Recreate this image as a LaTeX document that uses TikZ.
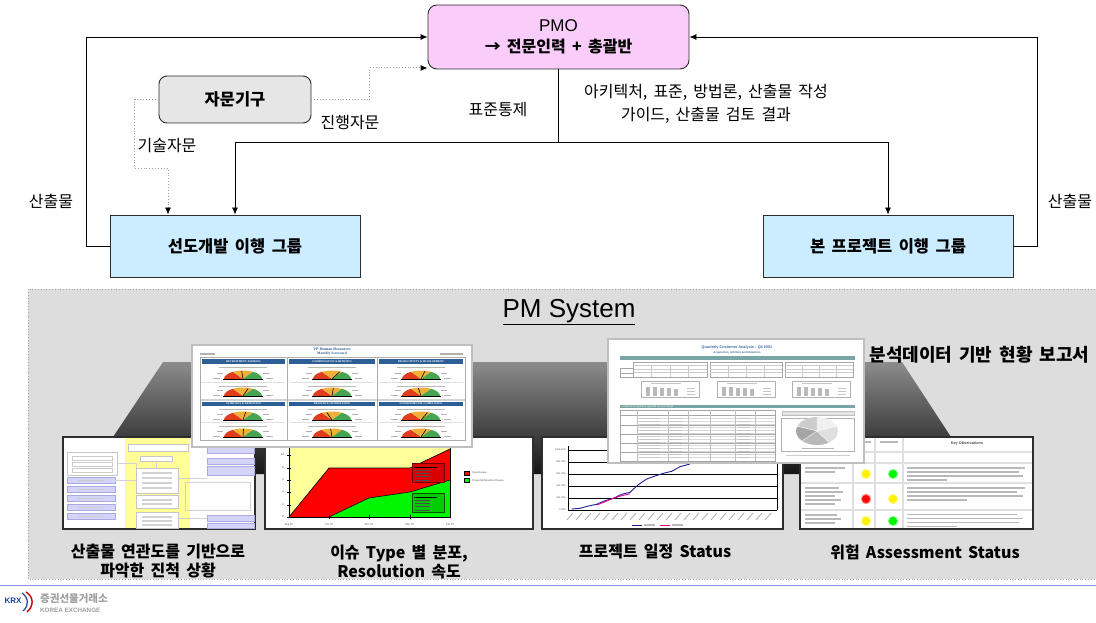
\documentclass[tikz,border=0pt]{standalone}
\usepackage{fontspec}
\setmainfont{Noto Sans CJK KR}[WordSpace=1.7]
\newfontfamily\arialish{Liberation Sans}
\newfontfamily\timesish{Liberation Serif}
\usetikzlibrary{arrows.meta}

\definecolor{pmofill}{RGB}{250,204,250}
\definecolor{advfill}{RGB}{230,230,230}
\definecolor{grpfill}{RGB}{204,236,255}
\definecolor{panelfill}{RGB}{221,221,221}
\definecolor{boxline}{RGB}{45,45,45}
\definecolor{hrblue}{RGB}{45,95,150}
\definecolor{qblue}{RGB}{60,110,170}
\definecolor{qteal}{RGB}{120,165,165}
\definecolor{gaugered}{RGB}{225,60,30}
\definecolor{gaugeamber}{RGB}{240,175,55}
\definecolor{gaugegreen}{RGB}{70,165,80}
\definecolor{lav}{RGB}{212,212,250}
\definecolor{lavline}{RGB}{170,170,225}
\definecolor{paleyellow}{RGB}{255,255,150}
\definecolor{chartyellow}{RGB}{255,255,153}
\definecolor{brightgreen}{RGB}{0,245,0}
\definecolor{planblue}{RGB}{30,30,150}
\definecolor{footline}{RGB}{140,140,225}
\definecolor{krxblue}{RGB}{30,70,150}

% one dial of the HR scorecard: centre x, centre y, needle angle
\newcommand\hrgauge[3]{%
  \begin{scope}[shift={(#1,#2)}]
    \fill[gaugered] (0pt,0pt) -- (-19pt,0pt) arc[start angle=180,end angle=122,x radius=19pt,y radius=8.5pt] -- cycle;
    \fill[gaugeamber] (0pt,0pt) -- (122:19pt and 8.5pt) arc[start angle=122,end angle=58,x radius=19pt,y radius=8.5pt] -- cycle;
    \fill[gaugegreen] (0pt,0pt) -- (58:19pt and 8.5pt) arc[start angle=58,end angle=0,x radius=19pt,y radius=8.5pt] -- cycle;
    \draw[black,line width=0.6pt] (0pt,0pt) -- (#3:15pt and 8pt);
    \draw[black,line width=0.4pt] (-20pt,0pt) -- (20pt,0pt);
    \fill[gray!60] (-30pt,0pt) rectangle (-23pt,1.2pt);
    \fill[gray!60] (23pt,0pt) rectangle (30pt,1.2pt);
    \fill[gray!60] (-26pt,5pt) rectangle (-20pt,6.2pt);
    \fill[gray!60] (20pt,5pt) rectangle (26pt,6.2pt);
  \end{scope}}

\tikzset{
  box/.style={draw=boxline, line width=0.9pt, align=center,
    font=\bfseries\fontsize{16.5}{18}\selectfont},
  pmobox/.style={box, fill=pmofill, rounded corners=9pt,
    minimum width=261pt, minimum height=64pt},
  advbox/.style={box, fill=advfill, rounded corners=8pt,
    minimum width=152pt, minimum height=47pt},
  grpbox/.style={box, fill=grpfill, minimum width=250pt, minimum height=62pt},
  conn/.style={draw=black, line width=0.8pt},
  arr/.style={conn, -{Latex[length=7pt,width=6pt]}},
  dotarr/.style={draw=gray!75, line width=0.9pt, dotted,
    -{Latex[length=7pt,width=6pt,black]}},
  lbl/.style={font=\fontsize{16}{23}\selectfont, align=center},
  captext/.style={font=\bfseries\fontsize{16}{19}\selectfont, align=center},
  thumb/.style={fill=white, draw=boxline, line width=1.2pt},
  shot/.style={fill=white, draw=gray!50, line width=1.6pt},
  txtbar/.style={fill=gray!55},
  tinytext/.style={inner sep=0pt, font=\timesish\fontsize{3}{3.5}\selectfont, text=gray!60!black}
}

\begin{document}
\begin{tikzpicture}[x=1pt,y=-1pt]
\useasboundingbox (0,0) rectangle (1096,623);
\fill[white] (0,0) rectangle (1096,623);

% ---------------- organisation flow ----------------
\node[pmobox, font=\bfseries\fontsize{16}{18}\selectfont] (pmo) at (558.5,37)
  {{\mdseries\arialish\fontsize{17}{20}\selectfont PMO}\\[3.5pt]{→ 전문인력 + 총괄반}};
\node[advbox] (adv) at (235,99.5) {자문기구};
\node[grpbox] (lead) at (235,246) {선도개발 이행 그룹};
\node[grpbox] (main) at (888,246) {본 프로젝트 이행 그룹};

% deliverables flow back up to the PMO
\draw[arr] (lead.west) -- ++(-23,0) |- (pmo.west);
\draw[arr] (main.east) -- ++(24,0) |- (pmo.east);

% advisory body
\draw[dotarr] (adv.east) -- ++(58,0) |- ([yshift=1.5pt]pmo.south west);
\draw[dotarr] (adv.west) -- ++(-24,0) -- ++(0,68.5) -| ([xshift=-67pt]lead.north);

% standards control from the PMO
\coordinate (fork) at (558.5,142);
\draw[conn] (pmo.south) -- (fork);
\draw[arr] (fork) -| (lead.north);
\draw[arr] (fork) -| (main.north);

\node[lbl] (lTech) at (167,146) {기술자문};
\node[lbl] (lProg) at (350,123) {진행자문};
\node[lbl] (lStd) at (498,110) {표준통제};
\node[lbl] (lGuide) at (706,103.5) {아키텍처, 표준, 방법론, 산출물 작성\\가이드, 산출물 검토 결과};
\node[lbl] (lOutL) at (51,201) {산출물};
\node[lbl] (lOutR) at (1070,201) {산출물};

% ---------------- PM System panel ----------------
\fill[panelfill] (28,289) rectangle (1100,579);
\draw[gray!70, line width=0.8pt, dotted] (1100,289) -- (28,289) -- (28,579) -- (1100,579);
\node[font=\arialish\fontsize{26}{30}\selectfont] (pms) at (569,312) {\underline{PM System}};

% dark shelf behind the screenshots
\shade[top color={rgb,255:red,140;green,140;blue,140}, bottom color={rgb,255:red,22;green,22;blue,22}]
  (163,362) -- (902,362) -- (951,437) -- (951,474) -- (113,474) -- (113,437) -- cycle;

% --- thumbnail 1: deliverable dependency map ---
\fill[thumb] (63,437) rectangle (255,529);
\fill[paleyellow] (125,438) rectangle (190,528);
\draw[gray!45, line width=0.6pt] (67,452) rectangle (117,475);
\foreach \yy in {456,462,468} \draw[gray!40, line width=0.5pt] (72,\yy) rectangle (112,\yy+4);
\foreach \yy in {477,486,495,504,513}
  \draw[fill=lav, draw=lavline, line width=0.5pt] (67,\yy) rectangle (115,\yy+6.5);
\foreach \ya/\yb in {447/453,458/464,466/475,515/521,523/528}
  \draw[fill=lav, draw=lavline, line width=0.5pt] (207,\ya) rectangle (254,\yb);
\draw[fill=white, draw=gray!45, line width=0.5pt] (128,444) rectangle (188,451);
\draw[fill=white, draw=gray!45, line width=0.5pt] (140,456) rectangle (172,461);
\draw[fill=white, draw=gray!45, line width=0.5pt] (136,468) rectangle (178,493);
\draw[fill=white, draw=gray!45, line width=0.5pt] (136,495) rectangle (178,508);
\draw[fill=white, draw=gray!45, line width=0.5pt] (136,512) rectangle (178,528);
\draw[gray!35, line width=0.8pt] (117,463) -- (136,463) -- (136,468);
\draw[gray!35, line width=0.8pt] (115,480) -- (136,480);
\draw[gray!35, line width=0.8pt] (178,478) -- (207,478);
\draw[gray!35, line width=0.8pt] (185,482) rectangle (250,510);
\draw[gray!35, line width=0.8pt] (178,518) -- (207,518);
\draw[gray!35, line width=0.8pt] (156,461) -- (156,468);
\foreach \yy in {472,477,482,487} \fill[gray!35] (142,\yy) rectangle (172,\yy+1.5);
\foreach \yy in {499,503,516,520,524} \fill[gray!35] (142,\yy) rectangle (172,\yy+1.5);
\foreach \yy in {479.5,488.5,497.5,506.5,515.5} \fill[gray!40] (78,\yy) rectangle (104,\yy+1.3);

% --- thumbnail 2: issue distribution chart ---
\fill[thumb] (265,437) rectangle (533,529);
\fill[chartyellow] (289,441) rectangle (450,517);
\fill[red] (289,517) -- (329,468) -- (410,468) -- (450,449) -- (450,480) -- (410,492) -- (369,498) -- (329,517) -- cycle;
\fill[brightgreen] (329,517) -- (369,498) -- (410,492) -- (450,480) -- (450,517) -- cycle;
\draw[black, line width=0.6pt] (289,517) -- (329,468) -- (410,468) -- (450,449);
\draw[black, line width=0.6pt] (329,517) -- (369,498) -- (410,492) -- (450,480);
\draw[black, line width=0.7pt] (289,441) -- (289,517) -- (450,517) -- (450,441);
\foreach \xx in {329,369,410} \draw[black, line width=0.5pt] (\xx,515) -- (\xx,519);
\foreach \v/\yy in {0/517,2/505,4/492,6/480,8/468,10/455} {
  \draw[black, line width=0.5pt] (287,\yy) -- (291,\yy);
  \node[tinytext, anchor=east] at (284,\yy) {\v};}
\foreach \m/\xx in {Sep 07/289,Oct 07/329,Nov 07/369,Dec 07/410,Jan 07/450}
  \node[tinytext] at (\xx,525) {\m};
\draw[fill=red!85!black, draw={rgb,255:red,110;green,0;blue,0}, line width=0.7pt] (412,463) rectangle (444,482);
\draw[fill=green!80!black, draw={rgb,255:red,0;green,80;blue,0}, line width=0.7pt] (412,493) rectangle (444,512);
\draw[black, line width=0.5pt] (414,467) -- (437,467);
\draw[black, line width=0.5pt] (414,497) -- (437,497);
\foreach \yy in {470,473,476,480} \fill[black!70] (415,\yy) rectangle (430,\yy+0.8);
\foreach \yy in {500,503,506,510} \fill[black!70] (415,\yy) rectangle (430,\yy+0.8);
\draw[fill=red, draw=black, line width=0.4pt] (464,471) rectangle (469,475.5);
\draw[fill=brightgreen, draw=black, line width=0.4pt] (464,478) rectangle (469,482.5);
\node[tinytext, anchor=west] at (472,473.3) {Open Issues};
\node[tinytext, anchor=west] at (472,480.3) {Closed \& Resolved Issues};

% --- thumbnail 3: schedule progress chart ---
\fill[thumb] (542,437) rectangle (783,529);
\foreach \yy in {450,462,474,486,498,510} \draw[black, line width=0.5pt] (568,\yy) -- (777,\yy);
\draw[black, line width=0.6pt] (568,446) -- (568,510);
\draw[black, line width=0.6pt] (777,446) -- (777,510);
\foreach \v/\yy in {1000.00\%/450,800.00\%/462,600.00\%/474,400.00\%/486,200.00\%/498,0.00\%/510}
  \node[tinytext, anchor=east, font=\arialish\fontsize{2.4}{3}\selectfont] at (566,\yy) {\v};
\foreach \k in {0,...,22} \draw[gray!60, line width=0.9pt] (573+\k*9,513) -- (567+\k*9,520);
\draw[planblue, line width=0.9pt] (571.7,509) -- (580,508.3) -- (588.3,506) -- (596.7,504.3) -- (605,500.7)
  -- (613.3,498.3) -- (621.7,494.3) -- (630,492.3) -- (638.3,484.7) -- (646.7,479) -- (655,476)
  -- (663.3,473.3) -- (671.7,471.3) -- (680,466.7) -- (690,464);
\draw[magenta, line width=0.9pt] (596.7,505) -- (605,501.7) -- (613.3,498.3) -- (621.7,495.7) -- (630,493.7);
\draw[planblue, line width=0.8pt] (632,525) -- (642,525);
\fill[gray!55] (644,524.3) rectangle (655,525.7);
\draw[magenta, line width=0.8pt] (660,525) -- (670,525);
\fill[gray!55] (672,524.3) rectangle (683,525.7);

% --- thumbnail 4: risk assessment table ---
\fill[thumb] (800,437) rectangle (1033,529);
\foreach \xx in {853,875,903} \draw[gray!25, line width=1.6pt] (\xx,438) -- (\xx,528);
\foreach \yy in {452,463,483,510} \draw[gray!25, line width=1.6pt] (801,\yy) -- (1032,\yy);
\node[tinytext, font=\arialish\bfseries\fontsize{3.8}{4}\selectfont] at (967,443.5) {Key Observations};
\fill[gray!55] (880,441) rectangle (898,442.5);
\fill[gray!55] (857,441) rectangle (871,442.5);
\foreach \yy/\w in {467/40,471/30} \fill[txtbar] (805,\yy) rectangle (805+\w,\yy+1.6);
\foreach \yy/\w in {487/34,491/38,495/30,499/36,503/30} \fill[txtbar] (805,\yy) rectangle (805+\w,\yy+1.6);
\foreach \yy/\w in {514/32,518/36,522/30} \fill[txtbar] (805,\yy) rectangle (805+\w,\yy+1.6);
\foreach \yy/\w in {467/118,471/112,475/116,479/40} \fill[txtbar] (907,\yy) rectangle (907+\w,\yy+1.6);
\foreach \yy/\w in {487/118,491/110,495/116,499/60} \fill[txtbar] (907,\yy) rectangle (907+\w,\yy+1.6);
\foreach \yy/\w in {514/110,518/116,522/112,526/50} \fill[txtbar] (907,\yy) rectangle (907+\w,\yy+1.4);
\foreach \xx/\yy/\c in {866/474/yellow, 893/474/brightgreen, 866/499/red, 893/499/yellow, 866/521/yellow, 893/521/brightgreen} {
  \fill[\c!45] (\xx,\yy) circle[radius=5.2pt];
  \fill[\c] (\xx,\yy) circle[radius=4pt];}

% --- HR scorecard screenshot ---
\draw[shot] (192,345) rectangle (472,447);
\node[inner sep=0pt, font=\timesish\bfseries\fontsize{4}{4.5}\selectfont, text=hrblue] at (332,349.5) {VP Human Resources};
\node[inner sep=0pt, font=\timesish\bfseries\fontsize{3.6}{4}\selectfont, text=hrblue] at (332,354) {Monthly Scorecard};
\fill[gray!60] (200,353) rectangle (215,354.6);
\fill[gray!60] (440,353) rectangle (463,354.6);
\fill[gray!35] (200,398.5) rectangle (465,400.5);
\draw[gray!65, line width=0.7pt] (200,357) rectangle (465,440);
\foreach \xx in {287,377} \draw[gray!65, line width=0.7pt] (\xx,357) -- (\xx,440);
\foreach \a/\b/\t in {202/285/RECRUITMENT \& HIRING, 289/375/COMPENSATION \& BENEFITS, 379/463/PRODUCTIVITY \& DEVELOPMENT} {
  \fill[hrblue] (\a,359) rectangle (\b,364);
  \node[inner sep=0pt, font=\timesish\bfseries\fontsize{2.7}{3}\selectfont, text=white] at ({(\a+\b)/2},361.5) {\t};}
\foreach \a/\b/\t in {202/285/ATTRITION \& RETENTION, 289/375/RESOURCE OPTIMIZATION, 379/463/GOVERNMENTAL COMPLIANCE} {
  \fill[hrblue] (\a,401.5) rectangle (\b,406);
  \node[inner sep=0pt, font=\timesish\bfseries\fontsize{2.7}{3}\selectfont, text=white] at ({(\a+\b)/2},403.8) {\t};}
\foreach \cx in {243,332,421} {
  \draw[gray!25, line width=0.6pt] (\cx-42,382.5) -- (\cx+42,382.5);
  \draw[gray!25, line width=0.6pt] (\cx-42,422.5) -- (\cx+42,422.5);
  \foreach \yy in {366.5,385.5,409,425.5} \fill[gray!55] (\cx-24,\yy) rectangle (\cx+24,\yy+1.3);
}
\hrgauge{243}{379}{95}
\hrgauge{332}{379}{60}
\hrgauge{421}{379}{75}
\hrgauge{243}{396}{70}
\hrgauge{332}{396}{85}
\hrgauge{421}{396}{100}
\hrgauge{243}{420}{80}
\hrgauge{332}{420}{110}
\hrgauge{421}{420}{65}
\hrgauge{243}{437}{88}
\hrgauge{332}{437}{95}
\hrgauge{421}{437}{70}

% --- quarterly customer analysis screenshot ---
\draw[shot] (608,339) rectangle (864,463);
\node[inner sep=0pt, font=\arialish\bfseries\fontsize{3.8}{4}\selectfont, text=qblue] at (737,348) {Quarterly Customer Analysis : Q4 2001};
\node[inner sep=0pt, font=\arialish\bfseries\fontsize{2.8}{3}\selectfont, text=qblue] at (737,352.6) {Acquisition, Attrition and Retention};
\fill[qteal] (620,356) rectangle (855,359.5);
\foreach \a/\b in {633/707,710/782,785/853} {
  \draw[gray!70, line width=0.4pt] (\a,362) rectangle (\b,377);
  \foreach \yy in {365.5,369,372.5} \draw[gray!40, line width=0.3pt] (\a,\yy) -- (\b,\yy);
  \foreach \f in {0.25,0.5,0.75} \draw[gray!40, line width=0.3pt] ({\a+\f*(\b-\a)},365.5) -- ({\a+\f*(\b-\a)},377);
}
\draw[gray!70, line width=0.4pt] (620,368.5) rectangle (633,377);
\draw[gray!70, line width=0.4pt] (620,372.7) -- (633,372.7);
\foreach \a in {641,717,792} {
  \draw[gray!60, line width=0.4pt] (\a,381) rectangle (\a+58,397);
  \fill[gray!45] (\a+10,382.5) rectangle (\a+40,383.8);
  \foreach \k in {0,...,4} \fill[gray!55] (\a+5+\k*7,387+\k*0.4) rectangle (\a+9+\k*7,395.5);
  \foreach \k in {0,1,2} \fill[gray!45] (\a+46,388+\k*3) rectangle (\a+54,389+\k*3);
}
\fill[qteal] (620,404.5) rectangle (855,408.3);
\node[inner sep=0pt, anchor=west, font=\arialish\fontsize{2.5}{3}\selectfont, text=white] at (622,406.4) {Customer Analysis by Age and Income Range};
\draw[gray!70, line width=0.4pt] (620,410) rectangle (775,461);
\draw[gray!70, line width=0.4pt] (620,415.5) -- (775,415.5);
\foreach \yy in {418.5,421.5,...,459} \draw[gray!30, line width=0.25pt] (637,\yy) -- (775,\yy);
\foreach \yy in {425,434,443,452} \draw[gray!70, line width=0.4pt] (620,\yy) -- (775,\yy);
\foreach \xx in {637,668,688,710,735,755} \draw[gray!50, line width=0.3pt] (\xx,410) -- (\xx,461);
\foreach \yy in {419,422,425,428,431,434,437,440,443,446,449,452,455,458} {
  \fill[gray!45] (640,\yy-1) rectangle (660,\yy-0.2);
  \fill[gray!45] (670,\yy-1) rectangle (682,\yy-0.2);
  \fill[gray!45] (738,\yy-1) rectangle (750,\yy-0.2);}
\draw[fill=gray!20, draw=gray!50, line width=0.4pt] (782,411) rectangle (854,415.5);
\draw[gray!60, line width=0.4pt] (781,418) rectangle (854,451);
\begin{scope}[shift={(817,431)}]
  \fill[gray!12] (0pt,0pt) -- (90:21pt and 14pt) arc[start angle=90,end angle=20,x radius=21pt,y radius=14pt] -- cycle;
  \fill[gray!25] (0pt,0pt) -- (20:21pt and 14pt) arc[start angle=20,end angle=-55,x radius=21pt,y radius=14pt] -- cycle;
  \fill[gray!55] (0pt,0pt) -- (-55:21pt and 14pt) arc[start angle=-55,end angle=-135,x radius=21pt,y radius=14pt] -- cycle;
  \fill[gray!70] (0pt,0pt) -- (-135:21pt and 14pt) arc[start angle=225,end angle=160,x radius=21pt,y radius=14pt] -- cycle;
  \fill[gray!40] (0pt,0pt) -- (160:21pt and 14pt) arc[start angle=160,end angle=90,x radius=21pt,y radius=14pt] -- cycle;
  \draw[white, line width=0.4pt] (0pt,0pt) -- (90:21pt and 14pt) (0pt,0pt) -- (20:21pt and 14pt)
    (0pt,0pt) -- (-55:21pt and 14pt) (0pt,0pt) -- (-135:21pt and 14pt) (0pt,0pt) -- (160:21pt and 14pt);
\end{scope}
\fill[gray!55] (802,447.5) rectangle (834,448.8);
\fill[gray!40] (786,455) rectangle (850,456.3);

\node[captext, anchor=west, font=\bfseries\fontsize{18}{19}\selectfont] (qcap) at (866,355) {분석데이터 기반 현황 보고서};

% captions under the screenshots
\node[captext] (c1) at (158,561.5) {산출물 연관도를 기반으로\\파악한 진척 상황};
\node[captext] (c2) at (399,561.5) {이슈 Type 별 분포,\\Resolution 속도};
\node[captext] (c3) at (655,552) {프로젝트 일정 Status};
\node[captext] (c4) at (925,552) {위험 Assessment Status};

% ---------------- footer ----------------
\draw[footline, line width=1pt] (0,585.5) -- (1096,585.5);
\node[inner sep=0pt, font=\arialish\bfseries\fontsize{8}{9}\selectfont, text=krxblue] (krx) at (13,601) {KRX};
\draw[red!80!black, line width=1.4pt] (26,592) .. controls (34,597) and (34,606) .. (27,612);
\draw[krxblue, line width=1.2pt] (22,593) .. controls (29,598) and (29,606) .. (23,611);
\node[inner sep=0pt, anchor=west, font=\bfseries\fontsize{10.5}{12}\selectfont, text=gray!75] (krxko) at (40,599) {증권선물거래소};
\node[inner sep=0pt, anchor=west, font=\arialish\bfseries\fontsize{6.3}{7}\selectfont, text=gray!75] (krxen) at (40,610.5) {KOREA EXCHANGE};
\end{tikzpicture}
\end{document}
